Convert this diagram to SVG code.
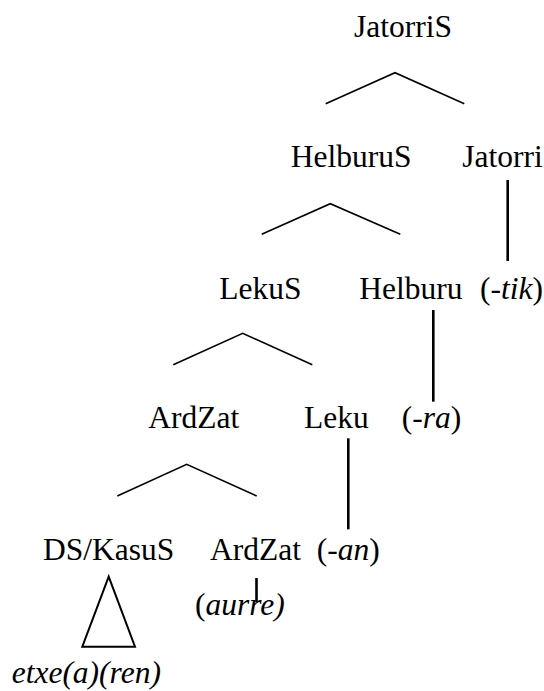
<svg xmlns="http://www.w3.org/2000/svg" width="544" height="691" viewBox="0 0 544 691">
  <style>
    .lbl { font-family: "Liberation Serif", "Times New Roman", serif; font-size: 31.5px; fill: #000; }
    .it { font-style: italic; }
    .branch { fill: none; stroke: #000; stroke-width: 1.6; }
    .stem { fill: none; stroke: #000; stroke-width: 2.6; }
    .roof { fill: none; stroke: #000; stroke-width: 2; }
  </style>
  <rect width="544" height="691" fill="#fff"/>

  <!-- tree connectors: branch pairs, unary stems and the roof over the phrase -->
  <g id="connectors">
    <polyline class="branch" points="325.7,103.7 395,72.7 464.3,103.7"/>
    <polyline class="branch" points="261.7,234.3 330.3,203.7 400.3,234.3"/>
    <polyline class="branch" points="173.3,364.7 242.7,333.3 312.3,364.7"/>
    <polyline class="branch" points="117.3,496 186.7,464.3 256.7,496"/>
    <line class="stem" x1="507.7" y1="180" x2="507.7" y2="261"/>
    <line class="stem" x1="433.3" y1="310" x2="433.3" y2="401.7"/>
    <line class="stem" x1="348.3" y1="438.3" x2="348.3" y2="529.3"/>
    <line class="stem" x1="256.5" y1="578" x2="256.5" y2="602"/>
    <polygon class="roof" points="108.7,576.7 82.3,646.7 135,646.7"/>
  </g>

  <!-- tree labels -->
  <g id="jatorriS"><text class="lbl" x="354" y="37">JatorriS</text></g>
  <g id="helburuS"><text class="lbl" x="290.7" y="167">HelburuS</text></g>
  <g id="jatorri"><text class="lbl" x="462.3" y="167">Jatorri</text></g>
  <g id="lekuS"><text class="lbl" x="219.3" y="299">LekuS</text></g>
  <g id="helburu"><text class="lbl" x="359.3" y="299">Helburu</text></g>
  <g id="tik"><text class="lbl" x="480" y="299">(-<tspan class="it">tik</tspan>)</text></g>
  <g id="ardZat1"><text class="lbl" x="148.3" y="428">ArdZat</text></g>
  <g id="leku"><text class="lbl" x="304" y="428">Leku</text></g>
  <g id="ra"><text class="lbl" x="401.7" y="428">(-<tspan class="it">ra</tspan>)</text></g>
  <g id="dsKasuS"><text class="lbl" x="43" y="560">DS/KasuS</text></g>
  <g id="ardZat2"><text class="lbl" x="210" y="560">ArdZat</text></g>
  <g id="an"><text class="lbl" x="316.7" y="560">(-<tspan class="it">an</tspan>)</text></g>
  <g id="aurre"><text class="lbl" x="195" y="615">(<tspan class="it">aurre)</tspan></text></g>
  <g id="etxe"><text class="lbl it" x="11.7" y="683">etxe(a)(ren)</text></g>
</svg>
